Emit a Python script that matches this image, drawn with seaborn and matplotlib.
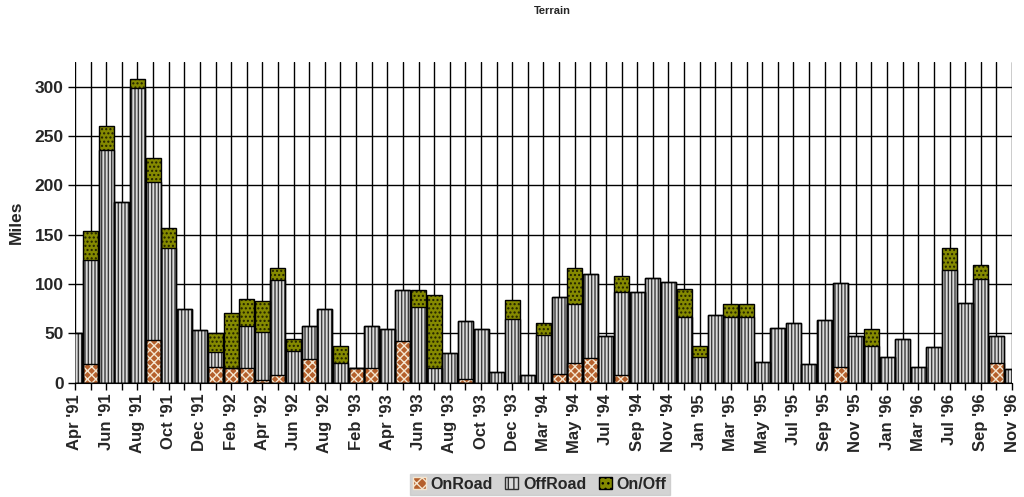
import matplotlib
matplotlib.use("Agg")
import matplotlib.pyplot as plt
import matplotlib.patches as mpatches
import numpy as np
import pandas as pd
import seaborn as sns

months = ["Apr '91", "May '91", "Jun '91", "Jul '91", "Aug '91", "Sep '91", "Oct '91", "Nov '91", "Dec '91",
          "Jan '92", "Feb '92", "Mar '92", "Apr '92", "May '92", "Jun '92", "Jul '92", "Aug '92", "Sep '92",
          "Feb '93", "Mar '93", "Apr '93", "May '93", "Jun '93", "Jul '93", "Aug '93", "Sep '93", "Oct '93",
          "Nov '93", "Dec '93", "Feb '94", "Mar '94", "Apr '94", "May '94", "Jun '94", "Jul '94", "Aug '94",
          "Sep '94", "Oct '94", "Nov '94", "Dec '94", "Jan '95", "Feb '95", "Mar '95", "Apr '95", "May '95",
          "Jun '95", "Jul '95", "Aug '95", "Sep '95", "Oct '95", "Nov '95", "Dec '95", "Jan '96", "Feb '96",
          "Mar '96", "Jun '96", "Jul '96", "Aug '96", "Sep '96", "Oct '96", "Nov '96"]

onroad = [0, 19, 0, 0, 0, 43, 0, 0, 0,
          16, 15, 15, 3, 8, 0, 24, 0, 0,
          15, 15, 0, 42, 0, 0, 0, 4, 0,
          0, 0, 0, 0, 9, 20, 25, 0, 8,
          0, 0, 0, 0, 0, 0, 0, 0, 0,
          0, 0, 0, 0, 16, 0, 0, 0, 0,
          0, 0, 0, 0, 0, 20, 0]
offroad = [50, 105, 236, 183, 299, 160, 137, 75, 53,
           15, 0, 42, 48, 96, 32, 33, 75, 20,
           0, 42, 54, 52, 77, 15, 30, 59, 54,
           11, 65, 8, 48, 78, 60, 85, 47, 84,
           92, 106, 102, 67, 26, 69, 67, 67, 21,
           55, 61, 19, 64, 85, 47, 37, 26, 44,
           16, 36, 114, 81, 105, 27, 14]
onoff = [0, 30, 24, 0, 9, 25, 20, 0, 0,
         19, 56, 28, 32, 12, 12, 0, 0, 17,
         0, 0, 0, 0, 17, 74, 0, 0, 0,
         0, 19, 0, 13, 0, 36, 0, 0, 16,
         0, 0, 0, 28, 11, 0, 13, 13, 0,
         0, 0, 0, 0, 0, 0, 17, 0, 0,
         0, 0, 23, 0, 14, 0, 0]

assert len(months) == len(onroad) == len(offroad) == len(onoff) == 61

df = pd.DataFrame({"month": months, "OnRoad": onroad, "OffRoad": offroad, "OnOff": onoff})
df["lvl1"] = df["OnRoad"]
df["lvl2"] = df["OnRoad"] + df["OffRoad"]
df["lvl3"] = df["lvl2"] + df["OnOff"]

sns.set_style("white")
plt.rcParams["font.family"] = ["Liberation Sans", "DejaVu Sans"]

fig = plt.figure(figsize=(10.24, 4.97), dpi=100)
ax = fig.add_axes([0.0732, 0.230, 0.9151, 0.645])

W = 0.96
ON_FC, ON_H, ON_HC = "#b5602c", "xxxx", "#f4e6d0"
OFF_FC, OFF_H, OFF_HC = "#dadada", "|" * 5, "#3a3a3a"
OO_FC, OO_H, OO_HC = "#858a00", "....", "#202000"
layers = [
    ("lvl3", OO_FC, OO_H, OO_HC, 1.0),
    ("lvl2", OFF_FC, OFF_H, OFF_HC, 1.0),
    ("lvl1", ON_FC, ON_H, ON_HC, 1.0),
]
for col, fc, hatch, hc, hlw in layers:
    plt.rcParams["hatch.linewidth"] = hlw
    sns.barplot(data=df, x="month", y=col, order=months, color=fc, saturation=1,
                hatch=hatch, edgecolor=hc, linewidth=0, width=W, errorbar=None, ax=ax, zorder=3)
    sns.barplot(data=df, x="month", y=col, order=months, facecolor="none",
                edgecolor="black", linewidth=1.0, width=W, errorbar=None, ax=ax, zorder=4)

ax.set_xlim(0, 60)
ax.set_ylim(0, 325)
ax.set_yticks([0, 50, 100, 150, 200, 250, 300])
ax.set_xticks(range(len(months)))
ax.set_xticklabels([m if i % 2 == 0 else "" for i, m in enumerate(months)],
                   rotation=90, fontweight="bold", fontsize=12)
for lab in ax.get_yticklabels():
    lab.set_fontweight("bold")
    lab.set_fontsize(12.5)
ax.tick_params(axis="both", which="both", direction="out", length=5, width=1, color="black",
               bottom=True, left=True, pad=3)
ax.grid(True, color="black", linewidth=1.0, zorder=0)
ax.set_axisbelow(True)
for s in ax.spines.values():
    s.set_visible(False)
ax.spines["bottom"].set_visible(True)
ax.spines["bottom"].set_color("black")
ax.set_xlabel("")
ax.set_ylabel("Miles", fontweight="bold", fontsize=12.5, labelpad=8)

fig.text(0.539, 0.978, "Terrain", ha="center", va="center", fontsize=8, fontweight="bold")

plt.rcParams["hatch.linewidth"] = 1.0
handles = [
    mpatches.Patch(facecolor=ON_FC, hatch="xxx", edgecolor=ON_HC, label="OnRoad"),
    mpatches.Patch(facecolor=OFF_FC, hatch="|||", edgecolor="#303030", label="OffRoad"),
    mpatches.Patch(facecolor=OO_FC, hatch="...", edgecolor="black", label="On/Off"),
]
leg = fig.legend(handles=handles, loc="lower center", bbox_to_anchor=(0.527, -0.012), ncol=3,
                 frameon=True, fancybox=False, handlelength=0.8, handleheight=0.8,
                 handletextpad=0.3, columnspacing=0.8, borderpad=0.2,
                 prop={"weight": "bold", "size": 11.5})
leg.get_frame().set_facecolor("#c8c8c8")
leg.get_frame().set_edgecolor("#c8c8c8")

fig.savefig("out.png", dpi=100)
